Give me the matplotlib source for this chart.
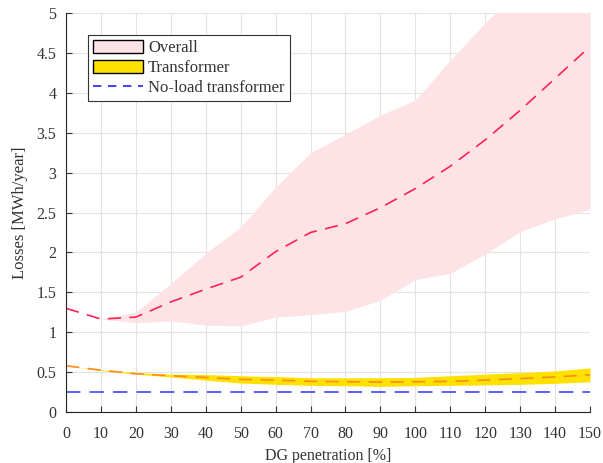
import numpy as np
import matplotlib.pyplot as plt
from matplotlib.patches import Patch
from matplotlib.lines import Line2D

plt.rcParams['font.family'] = ['Liberation Serif', 'DejaVu Serif']

# DG penetration [%]
dg = [0, 10, 20, 30, 40, 50, 60, 70, 80, 90, 100, 110, 120, 130, 140, 150]

# Overall losses [MWh/year]
overall_med = [1.30, 1.165, 1.19, 1.38, 1.54, 1.69, 2.01, 2.25, 2.36, 2.56, 2.80, 3.08, 3.41, 3.78, 4.18, 4.58]
overall_lo = [1.30, 1.165, 1.12, 1.14, 1.09, 1.08, 1.19, 1.22, 1.26, 1.40, 1.66, 1.74, 1.98, 2.26, 2.42, 2.54]
overall_hi = [1.30, 1.165, 1.25, 1.61, 1.99, 2.32, 2.82, 3.25, 3.48, 3.72, 3.91, 4.41, 4.88, 5.30, 5.70, 6.10]

# Transformer losses [MWh/year]
trafo_med = [0.58, 0.525, 0.48, 0.455, 0.434, 0.41, 0.40, 0.385, 0.38, 0.376, 0.38, 0.385, 0.40, 0.42, 0.44, 0.467]
trafo_lo = [0.58, 0.52, 0.475, 0.44, 0.40, 0.364, 0.347, 0.335, 0.33, 0.322, 0.33, 0.335, 0.34, 0.347, 0.36, 0.38]
trafo_hi = [0.58, 0.53, 0.495, 0.475, 0.47, 0.455, 0.445, 0.43, 0.43, 0.43, 0.435, 0.455, 0.475, 0.495, 0.515, 0.554]

# No-load transformer losses
noload = [0.25] * len(dg)

pink = '#fde3e5'
yellow = '#ffe100'
txt = '#333333'

fig = plt.figure(figsize=(6.03, 4.63), dpi=100)
ax = fig.add_axes([0.1095, 0.110, 0.869, 0.862])

ax.fill_between(dg, overall_lo, overall_hi, color=pink, lw=0)
ax.plot(dg, overall_med, color='#ff2255', lw=1.2, dashes=(8, 5))
ax.fill_between(dg, trafo_lo, trafo_hi, color=yellow, lw=0)
ax.plot(dg, trafo_med, color='#ff8c1a', lw=1.2, dashes=(8, 5))
ax.plot(dg, noload, color='#5050ff', lw=1.3, dashes=(8, 5))

ax.set_xlim(0, 150)
ax.set_ylim(0, 5)
ax.set_xticks(np.arange(0, 151, 10))
ax.set_yticks(np.arange(0, 5.01, 0.5))
ax.set_yticklabels(['0', '0.5', '1', '1.5', '2', '2.5', '3', '3.5', '4', '4.5', '5'])
ax.grid(True, color='#e3e3e3', lw=0.8)
ax.set_axisbelow(True)
for s in ['top', 'right']:
    ax.spines[s].set_visible(False)
for s in ['left', 'bottom']:
    ax.spines[s].set_color('#262626')
    ax.spines[s].set_linewidth(0.8)
ax.tick_params(direction='in', length=4, labelsize=11.5, colors=txt)
ax.tick_params(axis='x', pad=10)
ax.tick_params(axis='y', pad=7)
ax.set_xlabel('DG penetration [%]', fontsize=11.5, color=txt, labelpad=4)
ax.set_ylabel('Losses [MWh/year]', fontsize=12, color=txt, labelpad=6)

handles = [
    Patch(facecolor=pink, edgecolor='black', lw=1),
    Patch(facecolor=yellow, edgecolor='black', lw=1),
    Line2D([], [], color='#2020ff', lw=1.2, dashes=(5, 4)),
]
leg = ax.legend(handles, ['Overall', 'Transformer', 'No-load transformer'],
                loc='upper left', bbox_to_anchor=(0.042, 0.945), fontsize=12,
                fancybox=False, framealpha=1, edgecolor='#333333',
                handlelength=3.0, handleheight=0.85, handletextpad=0.3,
                labelspacing=0.2, borderpad=0.3, borderaxespad=0)
leg.get_frame().set_linewidth(0.8)
for t in leg.get_texts():
    t.set_color(txt)

fig.savefig('out.png', dpi=100)
